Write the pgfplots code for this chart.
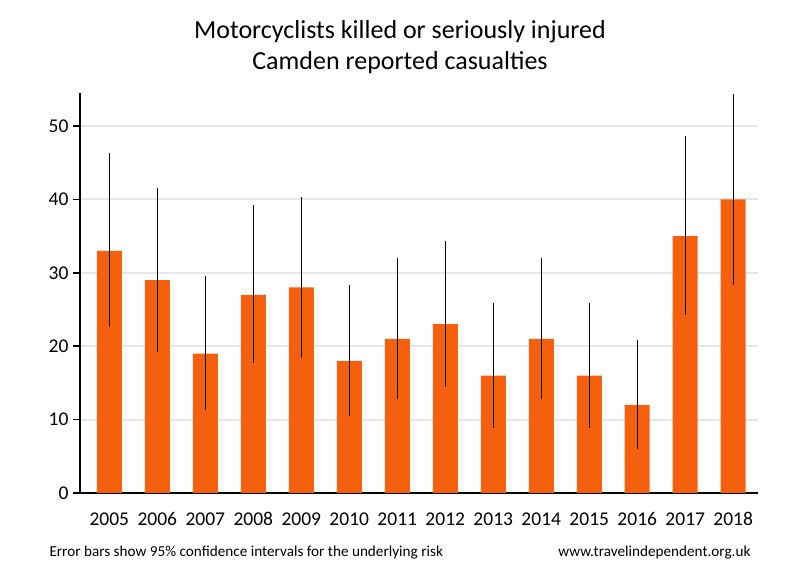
\documentclass[border=0pt]{standalone}
\usepackage{fontspec}
\setmainfont{Carlito}
\newfontfamily\footfont{Carlito}
\usepackage{pgfplots}
\pgfplotsset{compat=1.18}
\usepackage{pgfplotstable}
\definecolor{barorange}{RGB}{244,96,14}
\definecolor{gridgray}{RGB}{230,230,230}
\pgfplotstableread{
x year y ep em
0 2005 33 13.3 10.4
1 2006 29 12.5 9.8
2 2007 19 10.5 7.7
3 2008 27 12.2 9.3
4 2009 28 12.3 9.6
5 2010 18 10.3 7.5
6 2011 21 11.0 8.2
7 2012 23 11.4 8.6
8 2013 16 9.9 7.1
9 2014 21 11.0 8.2
10 2015 16 9.9 7.1
11 2016 12 8.8 6.0
12 2017 35 13.6 10.8
13 2018 40 14.3 11.6
}\datatable
\begin{document}
\begin{tikzpicture}[x=1bp,y=1bp]
\path[use as bounding box] (0,0) rectangle (800,580);
\begin{axis}[at={(80bp,87bp)}, anchor=south west, scale only axis,
  width=677.7bp, height=400bp,
  xmin=-0.61, xmax=13.51, ymin=0, ymax=54.5,
  axis x line*=bottom, axis y line*=left,
  axis line style={black, line width=2bp},
  ymajorgrids, grid style={gridgray, line width=2bp},
  ytick={0,10,20,30,40,50},
  xtick={0,...,13},
  xticklabels={2005,2006,2007,2008,2009,2010,2011,2012,2013,2014,2015,2016,2017,2018},
  xtick style={draw=none},
  ytick style={black, line width=1.5bp},
  tick align=outside, major tick length=7bp,
  /pgf/number format/assume math mode=true,
  ticklabel style={font=\fontsize{19.5bp}{22bp}\selectfont},
  xticklabel style={yshift=-9bp},
  yticklabel style={xshift=-1bp},
]
\addplot[ybar, bar width=25bp, fill=barorange, draw=none,
  error bars/.cd, y dir=both, y explicit, error mark=none,
  error bar style={black, line width=1bp}]
  table[x=x, y=y, y error plus=ep, y error minus=em]{\datatable};
\end{axis}
\node[font=\fontsize{26bp}{30bp}\selectfont] at (400,548) {Motorcyclists killed or seriously injured};
\node[font=\fontsize{26bp}{30bp}\selectfont] at (400,517) {Camden reported casualties};
\node[anchor=west, font=\footfont\fontsize{15.2bp}{18bp}\selectfont] at (46,27) {Error bars show 95\% confidence intervals for the underlying risk};
\node[anchor=east, font=\footfont\fontsize{15.2bp}{18bp}\selectfont] at (754,27) {www.travelindependent.org.uk};
\end{tikzpicture}
\end{document}
